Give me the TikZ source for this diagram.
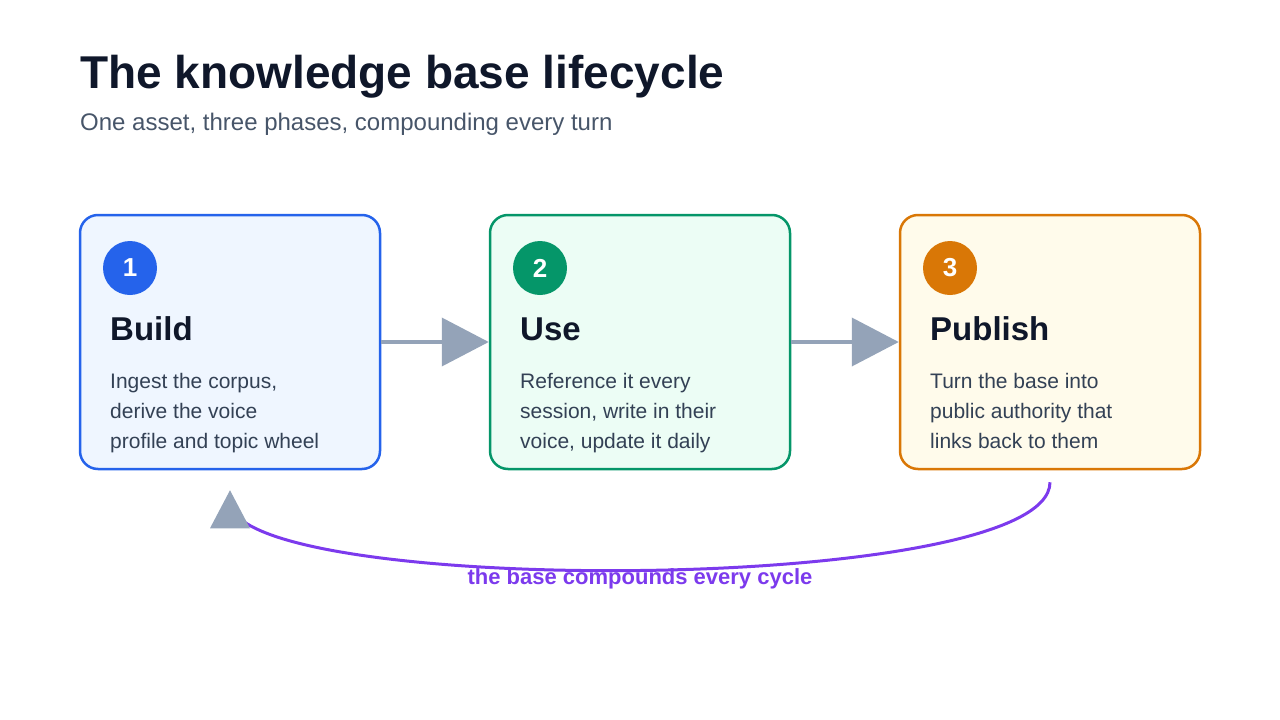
\documentclass[tikz,border=0pt]{standalone}
\usepackage{fontspec}
\setmainfont{Liberation Sans}
\usetikzlibrary{arrows.meta,positioning}

\definecolor{ink}{HTML}{0F172A}
\definecolor{subink}{HTML}{475569}
\definecolor{bodyink}{HTML}{334155}
\definecolor{flowgrey}{HTML}{94A3B8}
\definecolor{cycleviolet}{HTML}{7C3AED}
\definecolor{buildline}{HTML}{2563EB}
\definecolor{buildfill}{HTML}{EFF6FF}
\definecolor{useline}{HTML}{059669}
\definecolor{usefill}{HTML}{ECFDF5}
\definecolor{publishline}{HTML}{D97706}
\definecolor{publishfill}{HTML}{FFFBEB}

\tikzset{
  stage/.style={draw=#1line, fill=#1fill, line width=2.5pt, rounded corners=18pt,
    minimum width=300pt, minimum height=254pt, inner sep=0pt},
  badge/.style={circle, fill=#1line, minimum size=54pt, inner sep=0pt, text=white,
    font=\fontsize{26}{26}\selectfont\bfseries},
  heading/.style={anchor=base west, inner sep=0pt, text=ink,
    font=\fontsize{33}{33}\selectfont\bfseries},
  blurb/.style={anchor=base west, inner sep=0pt, align=left, text=bodyink,
    font=\fontsize{21}{30}\selectfont},
  flow/.style={draw=flowgrey, line width=4pt, -{Triangle[length=47pt,width=48pt]}},
  cycleline/.style={draw=cycleviolet, line width=3pt},
}

\begin{document}
\begin{tikzpicture}[x=1pt, y=-1pt]
\useasboundingbox (0,0) rectangle (1280,720);

\node[anchor=base west, inner sep=0pt, text=ink, font=\fontsize{46}{46}\selectfont\bfseries]
  (title) at (80,88) {The knowledge base lifecycle};
\node[anchor=base west, inner sep=0pt, text=subink, font=\fontsize{24}{24}\selectfont]
  (subtitle) at (80,130) {One asset, three phases, compounding every turn};

% the three phases (blurb sits on its last baseline)
\foreach \key/\num/\x/\head/\txt in {
  build/1/80/Build/{Ingest the corpus,\\derive the voice\\profile and topic wheel},
  use/2/490/Use/{Reference it every\\session, write in their\\voice, update it daily},
  publish/3/900/Publish/{Turn the base into\\public authority that\\links back to them}}{
  \node[stage=\key] (\key) at (\x+150,342) {};
  \node[badge=\key] (\key-badge) at (\x+50,268) {\num};
  \node[heading] (\key-head) at (\x+30,340) {\head};
  \node[blurb] (\key-text) at (\x+30,448) {\txt};
}

\draw[flow] (build.east) -- (use.west);
\draw[flow] (use.east) -- (publish.west);

% feedback loop, grey head laid over its end
\coordinate (cyclestart) at ([yshift=-12pt]publish.south);
\coordinate (cycleend) at ([yshift=-31pt]build.south);
\coordinate (cycletip) at ([yshift=-20pt]build.south);
\draw[cycleline] (cyclestart) .. controls +(0,114) and +(0,96) .. (cycleend);
\fill[flowgrey] (cycletip) -- ++(-20,38) -- ++(40,0) -- cycle;
\node[text=cycleviolet, font=\fontsize{22}{22}\selectfont\bfseries, inner sep=0pt]
  (cyclelabel) at (640,579) {the base compounds every cycle};
\end{tikzpicture}
\end{document}
